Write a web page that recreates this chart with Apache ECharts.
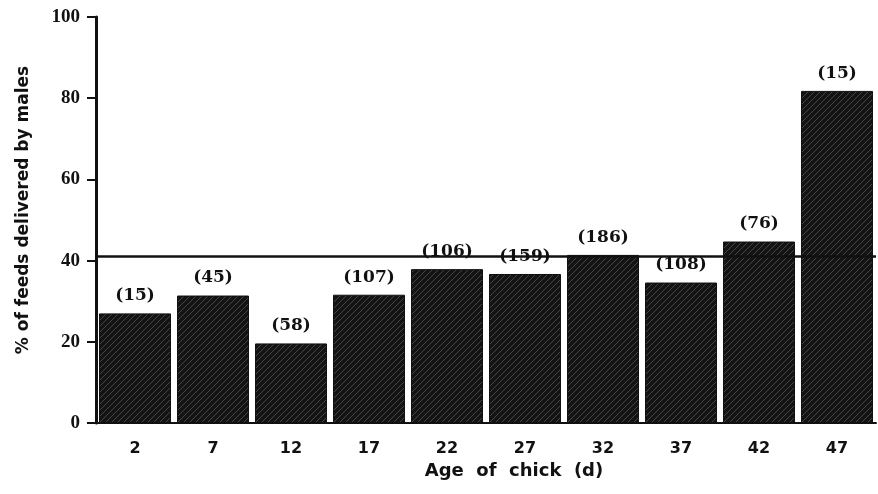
<!DOCTYPE html>
<html>
<head>
<meta charset="utf-8">
<script src="https://cdn.jsdelivr.net/npm/echarts@6/dist/echarts.min.js"></script>
<style>
  html, body { margin: 0; padding: 0; background: #fff; }
  #chart { width: 878px; height: 494px; }
</style>
</head>
<body>
<div id="chart"></div>
<script>
// Age of chick (days) on the category axis
const ages = ['2', '7', '12', '17', '22', '27', '32', '37', '42', '47'];
// Share of feeds delivered by males (%)
const malePercent = [27, 31.4, 19.6, 31.6, 37.9, 36.7, 41.4, 34.6, 44.7, 81.8];
// Number of feeds observed at each age, printed above the bars
const feedCounts = [15, 45, 58, 107, 106, 159, 186, 108, 76, 15];
// Overall mean share delivered by males
const overallMean = 41;
const yTicks = [0, 20, 40, 60, 80, 100];

// Diagonal hatch pattern for the bar fill
function hatchPattern() {
  const c = document.createElement('canvas');
  c.width = 6; c.height = 6;
  const g = c.getContext('2d');
  g.fillStyle = '#141414';
  g.fillRect(0, 0, 6, 6);
  g.strokeStyle = '#454545';
  g.lineWidth = 1;
  g.beginPath();
  g.moveTo(-1, 7); g.lineTo(7, -1);
  g.moveTo(-4, 4); g.lineTo(4, -4);
  g.moveTo(2, 10); g.lineTo(10, 2);
  g.stroke();
  return c;
}

const chart = echarts.init(document.getElementById('chart'));
const serif = '"DejaVu Serif", "Liberation Serif", serif';
const timesLike = '"Liberation Serif", "DejaVu Serif", serif';
const sans = '"DejaVu Sans", "Liberation Sans", sans-serif';

chart.setOption({
  animation: false,
  grid: { left: 96, right: 2, top: 17, bottom: 71 },
  xAxis: {
    type: 'category',
    data: ages,
    name: 'Age  of  chick  (d)',
    nameLocation: 'middle',
    nameGap: 36,
    nameTextStyle: {
      fontFamily: sans, fontWeight: 'bold', fontSize: 18, color: '#111',
      verticalAlign: 'top', padding: [0, 0, 0, 56]
    },
    axisLine: { lineStyle: { color: '#111', width: 2 } },
    axisTick: { alignWithLabel: true, length: 7, lineStyle: { color: '#111', width: 2 } },
    axisLabel: { fontFamily: sans, fontWeight: 'bold', fontSize: 16, color: '#111', margin: 18 }
  },
  yAxis: {
    type: 'value',
    min: 0, max: 100, interval: 20,
    name: '% of feeds delivered by males',
    nameLocation: 'middle',
    nameGap: 64,
    nameTextStyle: {
      fontFamily: sans, fontWeight: 'bold', fontSize: 17, color: '#111',
      padding: [0, 0, 0, 20]
    },
    splitLine: { show: false },
    axisLine: { show: true, lineStyle: { color: '#111', width: 3 } },
    axisTick: { show: true, length: 9, lineStyle: { color: '#111', width: 2 } },
    axisLabel: {
      fontFamily: timesLike, fontWeight: 'bold', fontSize: 19, color: '#111', margin: 16,
      formatter: v => (yTicks.includes(v) ? String(v) : '')
    }
  },
  series: [{
    type: 'bar',
    data: malePercent,
    barWidth: 72,
    itemStyle: {
      color: { image: hatchPattern(), repetition: 'repeat' },
      borderColor: '#111',
      borderWidth: 1
    },
    label: {
      show: true,
      position: 'top',
      distance: 9,
      fontFamily: serif,
      fontWeight: 'bold',
      fontSize: 17,
      color: '#111',
      formatter: p => '(' + feedCounts[p.dataIndex] + ')'
    },
    markLine: {
      silent: true,
      symbol: 'none',
      label: { show: false },
      lineStyle: { color: '#111', width: 2.5, type: 'solid' },
      data: [{ yAxis: overallMean }]
    }
  }]
});
</script>
</body>
</html>
